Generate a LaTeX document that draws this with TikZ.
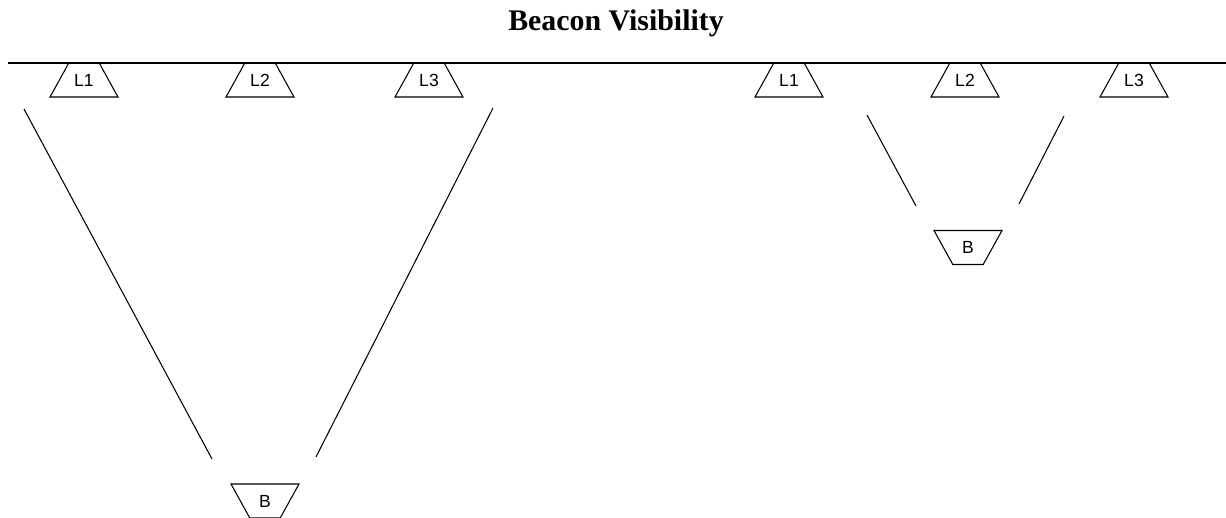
\documentclass[tikz,border=0pt]{standalone}
\usepackage{fontspec}
\setmainfont{Liberation Serif}
\setsansfont{Liberation Sans}
\usetikzlibrary{shapes.geometric}

\begin{document}
\begin{tikzpicture}[x=0.02cm, y=-0.02cm,
    lamp/.style={draw, trapezium, trapezium angle=61, trapezium stretches body, minimum width=1.36cm, minimum height=0.68cm, text height=7pt, text depth=0pt, inner xsep=0pt, inner ysep=6.15pt, line width=0.6pt, font=\sffamily\fontsize{10}{11}\selectfont},
    beacon/.style={lamp, shape border rotate=180},
    ray/.style={line width=0.6pt}
]
\useasboundingbox (0,0) rectangle (1226,517);
\node[font=\bfseries\fontsize{17}{20}\selectfont] (title) at (616,23) {Beacon Visibility};

% ceiling
\coordinate (ceilA) at (8,63);
\coordinate (ceilB) at (1226,63);
\draw[ray] (ceilA) -- (ceilB);

% left: beacon far away
\node[lamp] (l1) at (84,80) {L1};
\node[lamp] (l2) at (260,80) {L2};
\node[lamp] (l3) at (429,80) {L3};
\node[beacon] (bfar) at (265,501) {B};

% right: beacon close
\node[lamp] (r1) at (789,80) {L1};
\node[lamp] (r2) at (965,80) {L2};
\node[lamp] (r3) at (1134,80) {L3};
\node[beacon] (bnear) at (968,247.5) {B};

% visibility cones
\coordinate (fa1) at (24,109);
\coordinate (fa2) at (212,459);
\coordinate (fb1) at (493,108);
\coordinate (fb2) at (316,457);
\coordinate (na1) at (867,115);
\coordinate (na2) at (916,206);
\coordinate (nb1) at (1064,116);
\coordinate (nb2) at (1019,204);
\draw[ray] (fa1) -- (fa2);
\draw[ray] (fb1) -- (fb2);
\draw[ray] (na1) -- (na2);
\draw[ray] (nb1) -- (nb2);
\end{tikzpicture}
\end{document}
